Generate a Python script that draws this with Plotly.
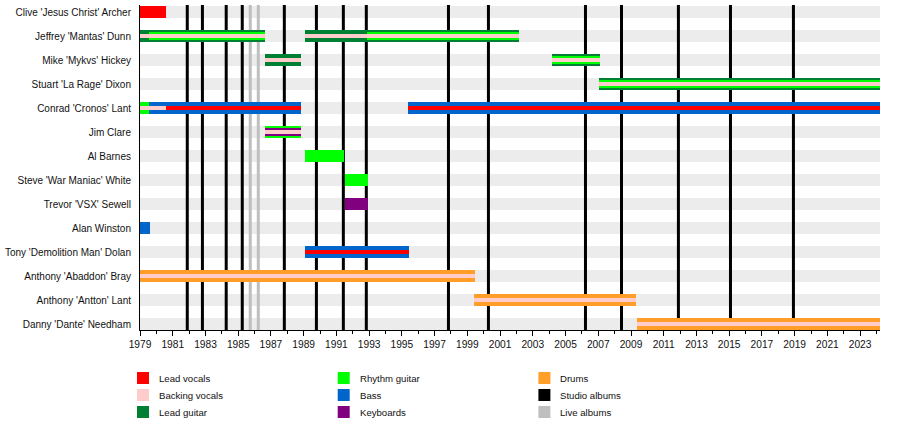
import pandas as pd
import plotly.graph_objects as go

# Band members, top to bottom
members = [
    "Clive 'Jesus Christ' Archer",
    "Jeffrey 'Mantas' Dunn",
    "Mike 'Mykvs' Hickey",
    "Stuart 'La Rage' Dixon",
    "Conrad 'Cronos' Lant",
    "Jim Clare",
    "Al Barnes",
    "Steve 'War Maniac' White",
    "Trevor 'VSX' Sewell",
    "Alan Winston",
    "Tony 'Demolition Man' Dolan",
    "Anthony 'Abaddon' Bray",
    "Anthony 'Antton' Lant",
    "Danny 'Dante' Needham",
]

period_start = "1979-01-01"
period_end = "2024-03-20"

roles = ["Lead vocals", "Backing vocals", "Lead guitar", "Rhythm guitar",
         "Bass", "Keyboards", "Drums"]

# (member, role, tier, start, end) -- tier 0 = main role, 1/2 = secondary roles
stints = [
    ("Clive 'Jesus Christ' Archer", "Lead vocals", 0, "1979-01-01", "1980-08-01"),
    ("Jeffrey 'Mantas' Dunn", "Lead guitar", 0, "1979-01-01", "1986-08-20"),
    ("Jeffrey 'Mantas' Dunn", "Rhythm guitar", 1, "1979-07-15", "1986-08-20"),
    ("Jeffrey 'Mantas' Dunn", "Backing vocals", 2, "1979-01-01", "1986-08-20"),
    ("Jeffrey 'Mantas' Dunn", "Lead guitar", 0, "1989-02-01", "2002-03-01"),
    ("Jeffrey 'Mantas' Dunn", "Rhythm guitar", 1, "1992-11-15", "2002-03-01"),
    ("Jeffrey 'Mantas' Dunn", "Backing vocals", 2, "1989-02-01", "2002-03-01"),
    ("Mike 'Mykvs' Hickey", "Lead guitar", 0, "1986-08-20", "1988-11-01"),
    ("Mike 'Mykvs' Hickey", "Backing vocals", 2, "1986-08-20", "1988-11-01"),
    ("Mike 'Mykvs' Hickey", "Lead guitar", 0, "2004-03-07", "2007-02-14"),
    ("Mike 'Mykvs' Hickey", "Rhythm guitar", 1, "2004-03-07", "2007-02-14"),
    ("Mike 'Mykvs' Hickey", "Backing vocals", 2, "2004-03-07", "2007-02-14"),
    ("Stuart 'La Rage' Dixon", "Lead guitar", 0, "2007-01-20", period_end),
    ("Stuart 'La Rage' Dixon", "Rhythm guitar", 1, "2007-01-20", period_end),
    ("Stuart 'La Rage' Dixon", "Backing vocals", 2, "2007-01-20", period_end),
    ("Conrad 'Cronos' Lant", "Rhythm guitar", 0, "1979-01-01", "1979-07-15"),
    ("Conrad 'Cronos' Lant", "Bass", 0, "1979-07-15", "1988-11-01"),
    ("Conrad 'Cronos' Lant", "Backing vocals", 2, "1979-01-01", "1980-08-01"),
    ("Conrad 'Cronos' Lant", "Lead vocals", 2, "1980-08-01", "1988-11-01"),
    ("Conrad 'Cronos' Lant", "Bass", 0, "1995-05-15", period_end),
    ("Conrad 'Cronos' Lant", "Lead vocals", 2, "1995-05-15", period_end),
    ("Jim Clare", "Rhythm guitar", 0, "1986-08-20", "1988-11-01"),
    ("Jim Clare", "Keyboards", 1, "1986-08-20", "1988-11-01"),
    ("Jim Clare", "Backing vocals", 2, "1986-08-20", "1988-11-01"),
    ("Al Barnes", "Rhythm guitar", 0, "1989-02-01", "1991-06-20"),
    ("Steve 'War Maniac' White", "Rhythm guitar", 0, "1991-07-10", "1992-12-10"),
    ("Trevor 'VSX' Sewell", "Keyboards", 0, "1991-07-10", "1992-12-10"),
    ("Alan Winston", "Bass", 0, "1979-01-01", "1979-08-10"),
    ("Tony 'Demolition Man' Dolan", "Bass", 0, "1989-02-01", "1995-06-10"),
    ("Tony 'Demolition Man' Dolan", "Lead vocals", 2, "1989-02-01", "1995-06-10"),
    ("Anthony 'Abaddon' Bray", "Drums", 0, "1979-01-01", "1999-06-25"),
    ("Anthony 'Abaddon' Bray", "Backing vocals", 2, "1979-01-01", "1999-06-25"),
    ("Anthony 'Antton' Lant", "Drums", 0, "1999-06-03", "2009-04-27"),
    ("Anthony 'Antton' Lant", "Backing vocals", 2, "1999-06-03", "2009-04-27"),
    ("Danny 'Dante' Needham", "Drums", 0, "2009-05-18", period_end),
    ("Danny 'Dante' Needham", "Backing vocals", 2, "2009-05-18", period_end),
]

studio_albums = ["1981-11-21", "1982-10-25", "1984-04-08", "1985-04-01",
                 "1987-10-27", "1989-10-12", "1991-06-05", "1992-10-30",
                 "1997-11-06", "2000-04-16", "2006-03-22", "2008-06-03",
                 "2011-11-25", "2015-01-30", "2018-12-05"]
live_albums = ["1985-09-27", "1986-03-25"]

# ---- styles ----
colors = {
    "Lead vocals": "#ff0000",
    "Backing vocals": "#ffcccc",
    "Lead guitar": "#008033",
    "Rhythm guitar": "#00ff00",
    "Bass": "#0066cc",
    "Keyboards": "#800080",
    "Drums": "#ff9e28",
    "Studio albums": "#000000",
    "Live albums": "#bfbfbf",
}
tier_width = [0.5, 1 / 3, 1 / 6]
FONT = "Liberation Sans, Arial, sans-serif"
y_range = [len(members) - 1 + 0.25, -7 / 24]

df = pd.DataFrame(stints, columns=["member", "role", "tier", "start", "end"])
df["row"] = df["member"].map({m: i for i, m in enumerate(members)})
df["dur"] = (pd.to_datetime(df["end"]) - pd.to_datetime(df["start"])).dt.total_seconds() * 1000

fig = go.Figure()

for tier in range(3):
    for role in roles:
        d = df[(df.tier == tier) & (df.role == role)]
        if d.empty:
            continue
        fig.add_trace(go.Bar(
            orientation="h", y=d["row"], x=d["dur"], base=d["start"],
            width=tier_width[tier], marker=dict(color=colors[role], line_width=0),
            showlegend=False, hoverinfo="skip",
        ))

# grey background stripe behind every row
for i in range(len(members)):
    fig.add_shape(type="rect", xref="x", yref="y", x0=period_start, x1=period_end,
                  y0=i - 0.25, y1=i + 0.25, fillcolor="#ececec", line_width=0, layer="below")

# album release lines (drawn after the stripes so they sit on top of them)
for kind, dates in (("Live albums", live_albums), ("Studio albums", studio_albums)):
    for dte in dates:
        fig.add_shape(type="line", xref="x", yref="y", x0=dte, x1=dte,
                      y0=y_range[0], y1=y_range[1],
                      line=dict(color=colors[kind], width=3), layer="below")

# legend in three columns below the chart
legend_items = ["Lead vocals", "Backing vocals", "Lead guitar", "Rhythm guitar", "Bass",
                "Keyboards", "Drums", "Studio albums", "Live albums"]
for k, name in enumerate(legend_items):
    col, r = divmod(k, 3)
    cx = -3 + 200.7 * col
    cy = -(48 + 17 * r)
    fig.add_shape(type="rect", xref="paper", yref="paper", xsizemode="pixel", ysizemode="pixel",
                  xanchor=0, yanchor=0, x0=cx, x1=cx + 12, y0=cy - 6, y1=cy + 6,
                  fillcolor=colors[name], line_width=0)
    fig.add_annotation(xref="paper", yref="paper", x=0, y=0, xshift=cx + 20, yshift=cy,
                       text=name, showarrow=False, xanchor="left", yanchor="middle",
                       font=dict(family=FONT, size=9.6, color="#111"))

fig.update_layout(
    width=900, height=430,
    margin=dict(l=140, r=20, t=5, b=100, autoexpand=False),
    paper_bgcolor="white", plot_bgcolor="white",
    barmode="overlay", bargap=0,
    font=dict(family=FONT, size=10, color="#111"),
    showlegend=False,
)
fig.update_xaxes(
    type="date", range=[period_start, period_end],
    tick0="1979-01-01", dtick="M24", tickformat="%Y",
    ticks="outside", ticklen=5, tickcolor="black", tickwidth=1,
    showline=True, linecolor="black", linewidth=1, showgrid=False, zeroline=False,
    minor=dict(dtick="M12", ticks="outside", ticklen=3, tickcolor="black", showgrid=False),
    tickfont=dict(size=10.2), automargin=False,
)
fig.update_yaxes(
    range=y_range, tickvals=list(range(len(members))), ticktext=members,
    ticks="", showline=True, linecolor="black", linewidth=1,
    showgrid=False, zeroline=False, ticklabelstandoff=6,
    tickfont=dict(size=10), automargin=False,
)

fig.write_html("out.html", config={"displayModeBar": False},
               post_script="document.body.style.margin='0';")
